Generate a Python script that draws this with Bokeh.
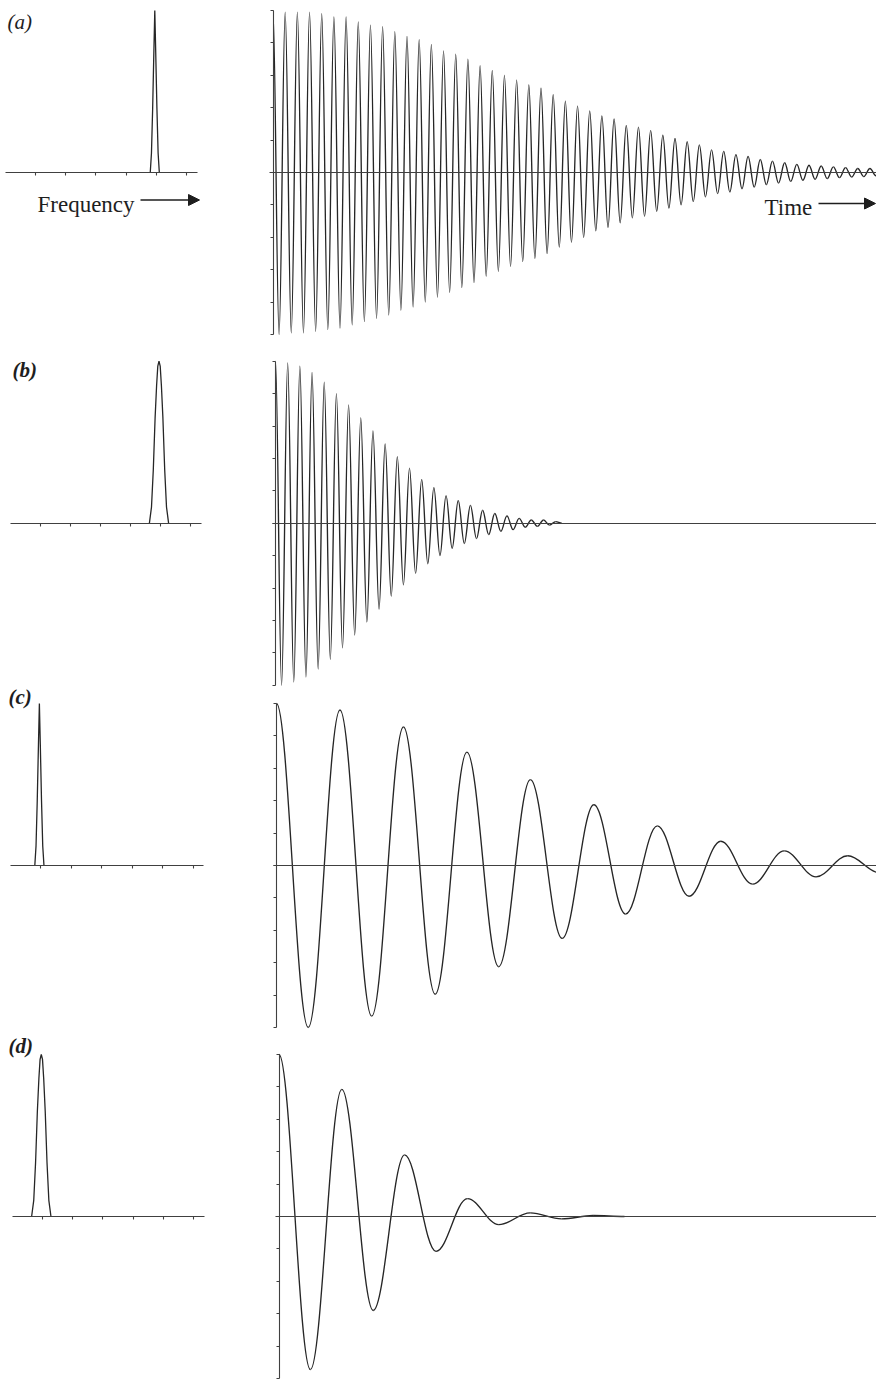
import numpy as np
from bokeh.plotting import figure
from bokeh.layouts import column
from bokeh.models import (Range1d, LinearAxis, FixedTicker, Label, Arrow,
                          NormalHead, ColumnDataSource)
from bokeh.embed import file_html
from bokeh.resources import INLINE

# ---------------- data ----------------
panel_labels = ["(a)", "(b)", "(c)", "(d)"]
freq_axis_label = "Frequency"
time_axis_label = "Time"

# oscillation frequency of each FID = position of its spectral line
nu_a = 4.95
nu_b = 4.95
nu_c = 0.95
nu_d = 0.96

# spectra (frequency units, relative height)
spec_x_a = [4.80, 4.84, 4.88, 4.92, 4.95, 4.98, 5.02, 5.06, 5.10]
spec_y_a = [0.0, 0.12, 0.40, 0.75, 1.00, 0.75, 0.40, 0.12, 0.0]
spec_x_b = [4.63, 4.70, 4.76, 4.82, 4.87, 4.91, 4.95, 4.99, 5.03, 5.08, 5.14, 5.20, 5.27]
spec_y_b = [0.0, 0.10, 0.33, 0.65, 0.85, 0.97, 1.00, 0.97, 0.85, 0.65, 0.33, 0.10, 0.0]
spec_x_c = [0.81, 0.85, 0.89, 0.93, 0.96, 0.99, 1.03, 1.07, 1.11]
spec_y_c = [0.0, 0.12, 0.40, 0.75, 1.00, 0.75, 0.40, 0.12, 0.0]
spec_x_d = [0.64, 0.71, 0.77, 0.83, 0.88, 0.92, 0.96, 1.00, 1.04, 1.09, 1.15, 1.21, 1.28]
spec_y_d = [0.0, 0.10, 0.33, 0.65, 0.85, 0.97, 1.00, 0.97, 0.85, 0.65, 0.33, 0.10, 0.0]

# FID extrema: heights of successive maxima and depths of successive minima
peaks_a = [1.00, 0.99, 0.99, 0.99, 0.98, 0.96, 0.96, 0.93, 0.91, 0.90, 0.87, 0.84,
           0.82, 0.79, 0.75, 0.73, 0.70, 0.66, 0.63, 0.60, 0.57, 0.54, 0.52, 0.48,
           0.44, 0.41, 0.38, 0.35, 0.33, 0.29, 0.28, 0.26, 0.23, 0.21, 0.19, 0.17,
           0.14, 0.13, 0.11, 0.10, 0.08, 0.07, 0.06, 0.05, 0.045, 0.04, 0.035, 0.03,
           0.025, 0.025]
troughs_a = [1.00, 0.99, 0.99, 0.98, 0.97, 0.96, 0.94, 0.92, 0.90, 0.88, 0.85, 0.83,
             0.80, 0.77, 0.74, 0.71, 0.68, 0.64, 0.61, 0.58, 0.55, 0.53, 0.50, 0.46,
             0.43, 0.40, 0.36, 0.34, 0.31, 0.28, 0.27, 0.24, 0.22, 0.20, 0.18, 0.15,
             0.13, 0.12, 0.10, 0.09, 0.075, 0.065, 0.055, 0.048, 0.042, 0.038, 0.032,
             0.028, 0.025, 0.02]
peaks_b = [1.00, 0.99, 0.97, 0.93, 0.87, 0.80, 0.73, 0.65, 0.57, 0.49, 0.41, 0.34,
           0.27, 0.22, 0.17, 0.14, 0.11, 0.08, 0.06, 0.045, 0.03, 0.02, 0.02, 0.01]
troughs_b = [1.00, 0.98, 0.95, 0.90, 0.84, 0.77, 0.69, 0.61, 0.53, 0.45, 0.38, 0.31,
             0.25, 0.20, 0.155, 0.125, 0.095, 0.07, 0.05, 0.04, 0.025, 0.02, 0.012,
             0.0]
peaks_c = [1.00, 0.96, 0.855, 0.70, 0.53, 0.375, 0.245, 0.15, 0.09, 0.06]
troughs_c = [1.00, 0.93, 0.795, 0.625, 0.45, 0.30, 0.19, 0.115, 0.07, 0.045]
peaks_d = [1.00, 0.785, 0.38, 0.11, 0.022, 0.006]
troughs_d = [0.945, 0.58, 0.215, 0.05, 0.015, 0.0]

amp_ticks = [-1.0, -0.8, -0.6, -0.4, -0.2, 0.0, 0.2, 0.4, 0.6, 0.8, 1.0]
freq_ticks = [1, 2, 3, 4, 5, 6]

# ---------------- layout (page pixels) ----------------
W = 876
PX_AMP = 162.0
PX_TIME = 60.3
INK = "#262626"
AXC = "#404040"
TXT = "#1e1e1e"
SERIF = "Liberation Serif"

rows = [
    dict(top=0, bottom=345, zero=172.0, t0=272.5, f0=4.8, fpx=30.2),
    dict(top=345, bottom=686, zero=522.7, t0=275.0, f0=10.0, fpx=30.0),
    dict(top=686, bottom=1035, zero=865.0, t0=276.0, f0=9.6, fpx=30.5),
    dict(top=1035, bottom=1380, zero=1216.0, t0=278.5, f0=11.8, fpx=30.2),
]
label_pos = [(7, 21.5), (12, 369.0), (8, 696.0), (8, 1045.5)]
label_style = ["italic", "bold italic", "bold italic", "bold italic"]

data = [
    (spec_x_a, spec_y_a, peaks_a, troughs_a, nu_a),
    (spec_x_b, spec_y_b, peaks_b, troughs_b, nu_b),
    (spec_x_c, spec_y_c, peaks_c, troughs_c, nu_c),
    (spec_x_d, spec_y_d, peaks_d, troughs_d, nu_d),
]


def fid_source(peaks, troughs, nu):
    vals = []
    for i in range(max(len(peaks), len(troughs))):
        if i < len(peaks):
            vals.append(peaks[i])
        if i < len(troughs):
            vals.append(-troughs[i])
    half = 1.0 / (2.0 * nu)
    t = np.arange(len(vals)) * half
    v = np.array(vals)
    c = (1.0 - 2.0 / np.pi) * half
    return ColumnDataSource(dict(
        x0=t[:-1], y0=v[:-1], x1=t[1:], y1=v[1:],
        cx0=t[:-1] + c, cy0=v[:-1], cx1=t[1:] - c, cy1=v[1:]))


def tick_axis(ticks, bounds, **kw):
    # ticks drawn as unlabeled (minor) ticks
    return LinearAxis(bounds=bounds, fixed_location=0,
                      ticker=FixedTicker(ticks=[], minor_ticks=ticks),
                      major_tick_in=0, major_tick_out=0,
                      minor_tick_in=0, minor_tick_out=3,
                      minor_tick_line_color=AXC, axis_line_color=AXC,
                      axis_line_width=1.1, minor_tick_line_width=1.1, **kw)


figs = []
for k, (rw, (sx, sy, pk, tr, nu)) in enumerate(zip(rows, data)):
    h = rw["bottom"] - rw["top"]
    to_y = lambda py, z=rw["zero"]: (z - py) / PX_AMP
    to_t = lambda px, t0=rw["t0"]: (px - t0) / PX_TIME
    to_f = lambda px, f0=rw["f0"], s=rw["fpx"]: (px - f0) / s
    p = figure(width=W, height=h, x_range=Range1d(to_t(0), to_t(W)),
               y_range=Range1d(to_y(rw["bottom"]), to_y(rw["top"])),
               x_axis_type=None, y_axis_type=None,
               toolbar_location=None, output_backend="svg",
               min_border=0, outline_line_color=None,
               background_fill_color="white", border_fill_color="white")
    p.extra_x_ranges = {"freq": Range1d(to_f(0), to_f(W))}

    # spectrum baseline with ticks
    p.add_layout(tick_axis(freq_ticks, (0, 6.35), x_range_name="freq"), "below")
    # time zero line
    p.add_layout(tick_axis([], (-0.05, to_t(W))), "below")
    # amplitude axis with ticks
    p.add_layout(tick_axis(amp_ticks, (-1, 1)), "left")

    p.line(sx, sy, x_range_name="freq", line_color=INK, line_width=1.3)
    src = fid_source(pk, tr, nu)
    p.bezier(x0="x0", y0="y0", x1="x1", y1="y1", cx0="cx0", cy0="cy0",
             cx1="cx1", cy1="cy1", source=src, line_color=INK, line_width=1.35)

    lx, ly = label_pos[k]
    p.add_layout(Label(x=to_f(lx), y=to_y(ly), x_range_name="freq",
                       text=panel_labels[k], text_font=SERIF,
                       text_font_style=label_style[k], text_font_size="21px",
                       text_baseline="middle", text_color=TXT))
    if k == 0:
        p.add_layout(Label(x=to_f(37), y=to_y(204), x_range_name="freq",
                           text=freq_axis_label, text_font=SERIF,
                           text_font_size="23px", text_baseline="alphabetic",
                           text_color=TXT))
        p.add_layout(Arrow(x_start=to_f(140), y_start=to_y(199.5),
                           x_end=to_f(199), y_end=to_y(199.5),
                           x_range_name="freq", line_color=TXT, line_width=1.3,
                           end=NormalHead(size=11, line_color=TXT, fill_color=TXT)))
        p.add_layout(Label(x=to_t(764), y=to_y(207), text=time_axis_label,
                           text_font=SERIF, text_font_size="23px",
                           text_baseline="alphabetic", text_color=TXT))
        p.add_layout(Arrow(x_start=to_t(818), y_start=to_y(203),
                           x_end=to_t(875), y_end=to_y(203),
                           line_color=TXT, line_width=1.3,
                           end=NormalHead(size=11, line_color=TXT, fill_color=TXT)))
    figs.append(p)

layout = column(*figs, spacing=0)
open("out.html", "w").write(file_html(layout, INLINE))
